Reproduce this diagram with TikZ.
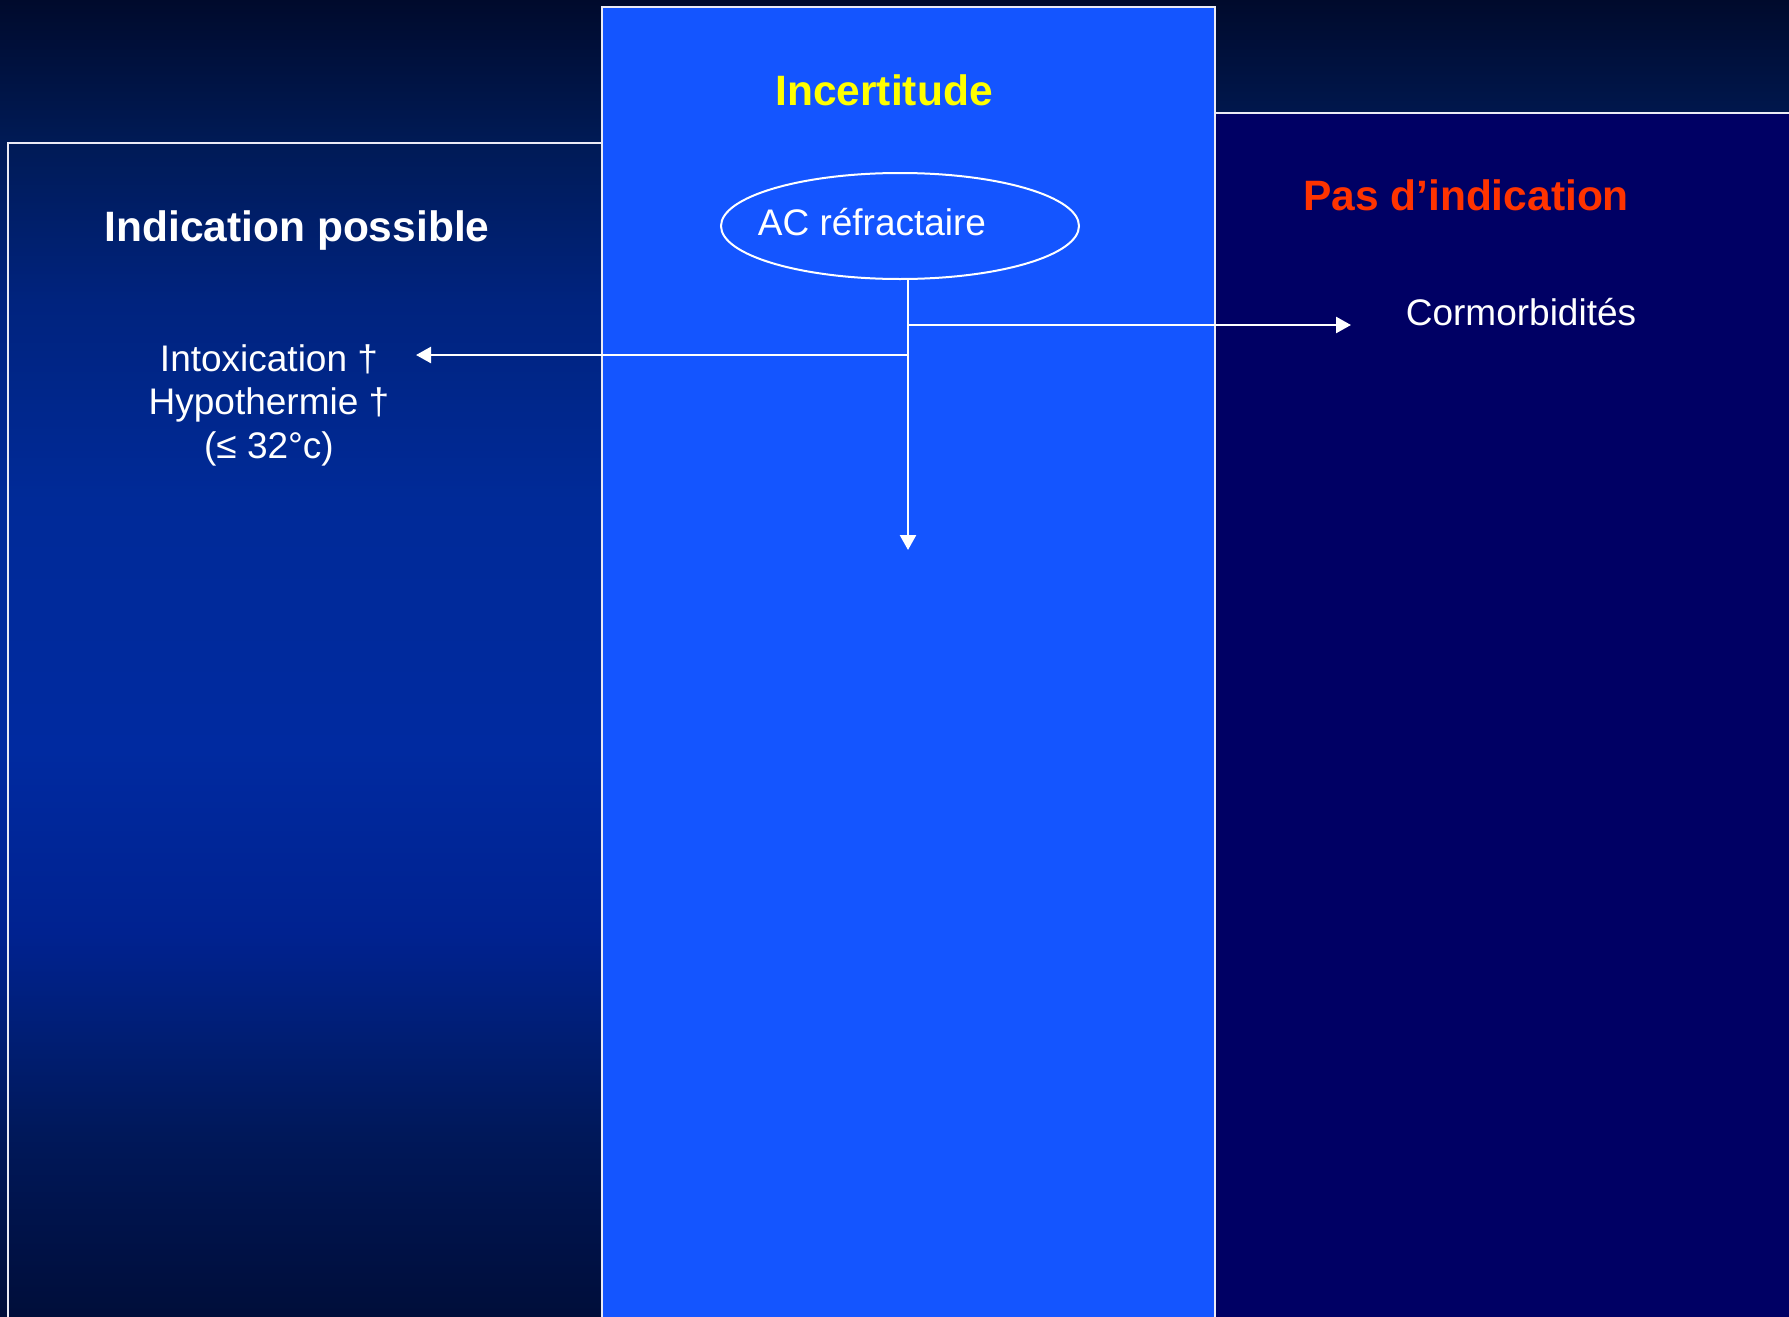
\documentclass[tikz,border=0pt]{standalone}
\usepackage{fontspec}
\setmainfont{Liberation Sans}
\usetikzlibrary{arrows.meta,shapes.geometric}
\definecolor{midblue}{RGB}{20,85,255}
\definecolor{rightnavy}{RGB}{0,0,100}
\definecolor{ylw}{RGB}{255,255,0}
\definecolor{redtxt}{RGB}{255,51,0}
\definecolor{bgA}{HTML}{000A2C}
\definecolor{bgB}{HTML}{001A55}
\definecolor{bgC}{HTML}{00237E}
\definecolor{bgD}{HTML}{002A98}
\definecolor{bgE}{HTML}{002AA0}
\definecolor{bgF}{HTML}{002290}
\definecolor{bgG}{HTML}{001E75}
\definecolor{bgH}{HTML}{00185A}
\definecolor{bgI}{HTML}{001248}
\definecolor{bgJ}{HTML}{000E3A}
\definecolor{edge}{RGB}{235,235,245}
\tikzset{
  boxline/.style={draw=edge, line width=2pt},
  conn/.style={draw=white, line width=2.5pt, -{Triangle[length=15pt,width=16pt]}},
  heading/.style={font=\fontsize{42.5}{50}\selectfont\bfseries, anchor=base, inner sep=0pt},
  bodytxt/.style={font=\fontsize{37}{43.5}\selectfont, text=white, inner sep=0pt},
}
\begin{document}
\begin{tikzpicture}[x=1pt,y=-1pt]
\useasboundingbox (0,0) rectangle (1789,1317);
% background gradient
\fill[top color=bgA, bottom color=bgB] (0,0) rectangle (1789,140);
\fill[top color=bgB, bottom color=bgC] (0,140) rectangle (1789,300);
\fill[top color=bgC, bottom color=bgD] (0,300) rectangle (1789,500);
\fill[top color=bgD, bottom color=bgE] (0,500) rectangle (1789,750);
\fill[top color=bgE, bottom color=bgF] (0,750) rectangle (1789,933);
\fill[top color=bgF, bottom color=bgG] (0,933) rectangle (1789,1033);
\fill[top color=bgG, bottom color=bgH] (0,1033) rectangle (1789,1133);
\fill[top color=bgH, bottom color=bgI] (0,1133) rectangle (1789,1233);
\fill[top color=bgI, bottom color=bgJ] (0,1233) rectangle (1789,1318);
% boxes
\fill[rightnavy] (1215,113) rectangle (1790,1318);
\fill[midblue] (602,7) rectangle (1215,1318);
\draw[boxline] (8,1320) -- (8,143) -- (602,143);
\draw[boxline] (1215,113) -- (1792,113);
\draw[boxline] (602,1320) -- (602,7) -- (1215,7) -- (1215,1320);
% headings
\node[heading, text=ylw] (hmid) at (884,105) {Incertitude};
\node[heading, text=white] (hleft) at (297,241) {Indication possible};
\node[heading, text=redtxt] (hright) at (1466,210) {Pas d’indication};
% ellipse
\node[draw=white, line width=2pt, ellipse, minimum width=358pt, minimum height=106pt, inner sep=0pt] (ac) at (900,226) {};
\node[bodytxt, anchor=base] (actxt) at (872,235) {AC réfractaire};
% targets
\node[bodytxt, anchor=base] (cormo) at (1521,325) {Cormorbidités};
\node[bodytxt, anchor=base, align=center] (left) at (269,458) {Intoxication †\\Hypothermie †\\(≤ 32°c)};
% connectors
\coordinate (j1) at (908,325);
\coordinate (j2) at (908,355);
\coordinate (tipR) at (1351,325);
\coordinate (tipL) at (416,355);
\coordinate (tipD) at (908,550);
\draw[conn] (ac.south -| tipD) -- (tipD);
\draw[conn] (j1) -- (tipR);
\draw[conn] (j2) -- (tipL);
\end{tikzpicture}
\end{document}
